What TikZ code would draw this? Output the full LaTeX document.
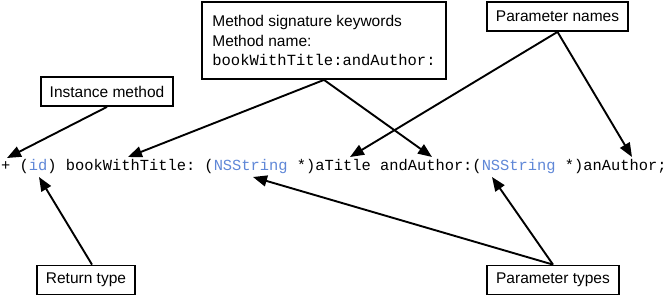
\documentclass[tikz,border=0pt]{standalone}
\usepackage{fontspec}
\setmainfont{Liberation Sans}
\setmonofont{Liberation Mono}
\usetikzlibrary{arrows.meta,positioning,calc}
\usepackage{xcolor}
\definecolor{kwblue}{RGB}{95,135,215}

\begin{document}
\begin{tikzpicture}[
  x=1pt, y=-1pt,
  callout/.style={rectangle, draw=black, line width=1.8pt, inner xsep=9pt, inner ysep=0pt, minimum height=29pt, font=\fontsize{15.5}{19.8}\selectfont},
  code/.style={inner sep=0pt, font=\fontsize{15.4}{19.5}\selectfont\ttfamily},
  ptr/.style={-{Triangle[length=14pt,width=11pt]}, line width=1.9pt},
  >=Triangle
]
\useasboundingbox (0,0) rectangle (669,296);

\node[code, anchor=base west] (line) at (1,171) {+ (\textcolor{kwblue}{id}) bookWithTitle: (\textcolor{kwblue}{NSString} *)aTitle andAuthor:(\textcolor{kwblue}{NSString} *)anAuthor;};

% callouts above the line
\node[callout] (inst) at (107,91.5) {Instance method};
\node[callout, align=left, inner xsep=10pt, minimum height=77pt] (sig) at (324,40.5) {Method signature keywords\\Method name:\\\texttt{bookWithTitle:andAuthor:}};
\node[callout] (pnames) at (557.5,16.5) {Parameter names};

% callouts below the line
\node[callout] (ret) at (86,280) {Return type};
\node[callout] (ptypes) at (553,280) {Parameter types};

% spots in the code line
\coordinate (plus) at ($(line.base west)+(6,-13)$);
\coordinate (kw1) at ($(line.base west)+(127,-14)$);
\coordinate (kw2) at ($(line.base west)+(431,-14)$);
\coordinate (par1) at ($(line.base west)+(349,-14)$);
\coordinate (par2) at ($(line.base west)+(631,-14)$);
\coordinate (rtype) at ($(line.base west)+(38,6)$);
\coordinate (ty1) at ($(line.base west)+(252,6)$);
\coordinate (ty2) at ($(line.base west)+(491,6)$);

\draw[ptr] (inst.south) -- (plus);
\draw[ptr] (sig.south) -- (kw1);
\draw[ptr] (sig.south) -- (kw2);
\draw[ptr] (pnames.south) -- (par1);
\draw[ptr] (pnames.south) -- (par2);
\draw[ptr] ([xshift=6pt]ret.north) -- (rtype);
\draw[ptr] (ptypes.north) -- (ty1);
\draw[ptr] (ptypes.north) -- (ty2);
\end{tikzpicture}
\end{document}
